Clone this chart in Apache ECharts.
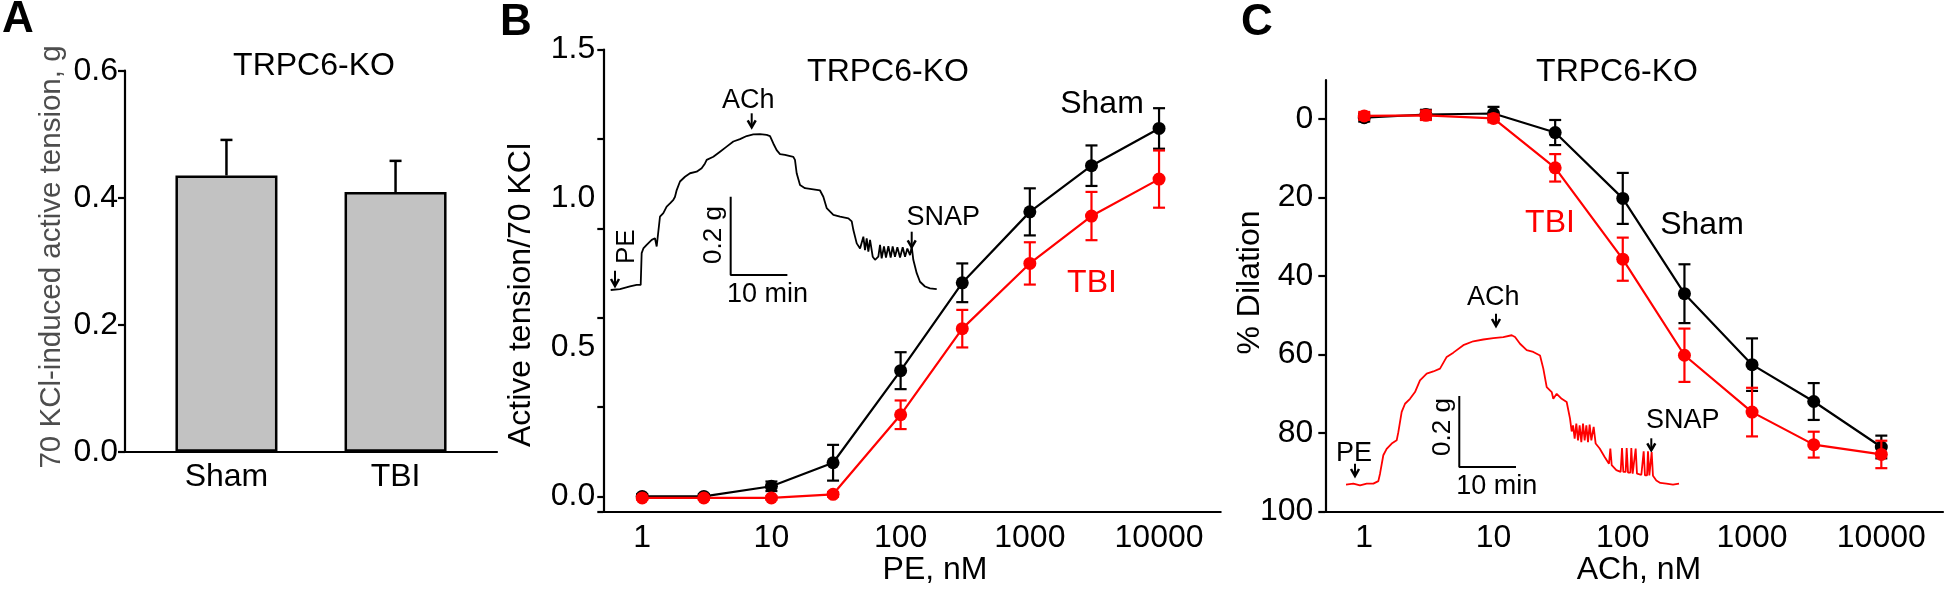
<!DOCTYPE html>
<html><head><meta charset="utf-8">
<script src="https://cdn.jsdelivr.net/npm/echarts@6/dist/echarts.min.js"></script>
<style>html,body{margin:0;padding:0;background:#fff}#c{width:1946px;height:592px}</style>
</head><body><div id="c"></div>
<script>
// ---------- DATA ----------
const barCategories = ['Sham', 'TBI'];
const barMeans = [0.435, 0.409];
const barErrs = [0.056, 0.049];
const aYTicks = [0, 0.2, 0.4, 0.6];

const conc = [1, 3, 10, 30, 100, 300, 1000, 3000, 10000];
const logTicks = [1, 10, 100, 1000, 10000];
const logTickLabels = ['1', '10', '100', '1000', '10000'];

const peShamMean = [0.0, 0.0, 0.034, 0.113, 0.422, 0.717, 0.955, 1.110, 1.235];
const peShamErr  = [0.008, 0.008, 0.016, 0.060, 0.062, 0.065, 0.079, 0.068, 0.068];
const peTbiMean  = [-0.005, -0.005, -0.005, 0.007, 0.274, 0.563, 0.782, 0.941, 1.065];
const peTbiErr   = [0.006, 0.006, 0.006, 0.008, 0.048, 0.063, 0.071, 0.081, 0.096];
const bYTicks = [0, 0.5, 1.0, 1.5];

const achShamMean = [-0.4, -1.2, -1.45, 3.4, 20.2, 44.5, 62.6, 72.0, 83.6];
const achShamErr  = [1.0, 1.2, 1.7, 3.2, 6.5, 7.5, 6.7, 4.7, 2.9];
const achTbiMean  = [-0.85, -1.0, -0.2, 12.4, 35.7, 60.2, 74.7, 83.0, 85.5];
const achTbiErr   = [1.0, 1.2, 1.0, 3.5, 5.5, 6.8, 6.2, 3.3, 3.5];
const cYTicks = [0, 20, 40, 60, 80, 100];

// raw tension traces (minutes, grams above baseline)
const traceBTime = [0.0,1.64,3.40,4.58,5.29,5.46,5.76,6.34,7.23,7.81,8.11,8.69,9.28,9.87,10.46,11.05,11.34,11.64,12.22,13.10,13.99,15.16,16.04,16.63,16.93,18.10,19.28,20.45,21.63,22.80,23.98,25.15,26.33,27.51,28.10,28.68,29.27,29.86,30.74,32.21,32.50,32.80,33.39,34.27,35.74,36.92,37.50,38.09,39.27,40.45,41.92,42.51,42.80,43.39,43.98,44.27,44.56,44.85,45.15,45.44,45.74,46.21,46.62,47.20,47.50,47.79,48.20,48.55,48.97,49.38,49.73,50.14,50.56,51.03,51.50,51.91,52.32,52.79,53.09,53.37,53.97,54.55,55.43,56.31,57.50];
const traceBTension = [0,0.002,0.009,0.013,0.013,0.094,0.106,0.115,0.128,0.132,0.111,0.187,0.196,0.213,0.221,0.230,0.238,0.255,0.277,0.289,0.298,0.302,0.311,0.323,0.332,0.340,0.353,0.366,0.379,0.385,0.393,0.397,0.398,0.396,0.393,0.374,0.357,0.347,0.345,0.340,0.332,0.298,0.268,0.260,0.257,0.254,0.238,0.209,0.192,0.187,0.183,0.175,0.153,0.119,0.106,0.111,0.136,0.102,0.132,0.098,0.128,0.085,0.077,0.085,0.115,0.081,0.111,0.083,0.112,0.083,0.111,0.085,0.109,0.083,0.109,0.085,0.106,0.089,0.111,0.077,0.043,0.021,0.009,0.004,0.002];

const traceCTime = [0,1.29,2.47,3.65,4.82,5.70,6.0,6.58,7.17,8.06,8.94,9.23,9.82,10.41,11.29,12.17,13.05,14.23,15.40,16.58,17.76,18.93,20.69,22.45,24.22,25.98,27.74,29.22,29.81,30.69,31.87,33.03,34.22,34.80,35.40,36.28,36.56,37.16,38.04,38.92,39.51,39.80,40.04,40.33,40.62,40.92,41.21,41.50,41.80,42.09,42.39,42.68,42.97,43.27,43.68,44.03,44.74,45.62,46.38,46.62,46.86,47.68,48.44,48.68,48.91,49.32,49.50,49.74,50.15,50.32,50.56,50.91,51.09,51.32,52.09,52.50,52.73,53.09,53.26,53.50,53.73,53.91,54.14,54.73,55.44,56.50,57.67,58.73];
const traceCTension = [0,0.003,-0.002,0.003,0.003,0.010,0.031,0.083,0.101,0.116,0.125,0.148,0.205,0.228,0.242,0.261,0.294,0.313,0.319,0.327,0.360,0.372,0.393,0.404,0.409,0.413,0.416,0.421,0.416,0.397,0.379,0.374,0.364,0.327,0.275,0.261,0.242,0.256,0.242,0.233,0.186,0.150,0.167,0.130,0.172,0.125,0.167,0.120,0.172,0.125,0.167,0.120,0.169,0.125,0.163,0.116,0.102,0.078,0.059,0.102,0.055,0.041,0.036,0.103,0.036,0.036,0.103,0.034,0.034,0.103,0.031,0.031,0.102,0.031,0.028,0.094,0.026,0.026,0.094,0.026,0.028,0.092,0.025,0.012,0.005,0.003,0.0,0.003];

const scaleBarGrams = 0.2;
const scaleBarMinutes = 10;

// ---------- BUILD ----------
const FONT = '"Liberation Sans", Arial, Helvetica, sans-serif';
const zip = (a, b) => a.map((v, i) => [v, b[i]]);
const errRows = (xs, m, e) => xs.map((x, i) => [x, m[i] - e[i], m[i] + e[i]]);
const scaleBar = (t0, g0) => [[t0, g0 + scaleBarGrams], [t0, g0], [t0 + scaleBarMinutes, g0]];

function errRender(params, api) {
  const x = api.value(0);
  const lo = api.coord([x, api.value(1)]);
  const hi = api.coord([x, api.value(2)]);
  const hw = 6;
  const style = { stroke: api.visual('color'), lineWidth: 2.2 };
  return { type: 'group', children: [
    { type: 'line', shape: { x1: lo[0], y1: lo[1], x2: hi[0], y2: hi[1] }, style },
    { type: 'line', shape: { x1: lo[0] - hw, y1: lo[1], x2: lo[0] + hw, y2: lo[1] }, style },
    { type: 'line', shape: { x1: hi[0] - hw, y1: hi[1], x2: hi[0] + hw, y2: hi[1] }, style }
  ]};
}
function errUpRender(params, api) {
  const x = api.value(0);
  const lo = api.coord([x, api.value(1)]);
  const hi = api.coord([x, api.value(2)]);
  const hw = 6;
  const style = { stroke: '#000', lineWidth: 2.5 };
  return { type: 'group', children: [
    { type: 'line', shape: { x1: lo[0], y1: lo[1], x2: hi[0], y2: hi[1] }, style },
    { type: 'line', shape: { x1: hi[0] - hw, y1: hi[1], x2: hi[0] + hw, y2: hi[1] }, style }
  ]};
}
const logFmt = v => {
  for (let i = 0; i < logTicks.length; i++) {
    if (Math.abs(v - logTicks[i]) / logTicks[i] < 1e-6) return logTickLabels[i];
  }
  return '';
};

const axLine = { show: true, onZero: false, lineStyle: { color: '#000', width: 2.2 } };
const lbl = (margin, extra) => Object.assign({ color: '#000', fontSize: 32, fontFamily: FONT, margin }, extra || {});
const tickOut = len => ({ show: true, length: len, inside: false, lineStyle: { color: '#000', width: 2.2 } });

const hiddenAx = (gi, min, max) => ({ gridIndex: gi, type: 'value', min, max, show: false });

function txt(text, x, y, size, opts) {
  opts = opts || {};
  return {
    type: 'text', x, y, z: 100, rotation: opts.rot || 0,
    style: { text, fontSize: size, fontFamily: FONT, fontWeight: opts.bold ? 'bold' : 'normal',
      fill: opts.color || '#000', align: 'center', verticalAlign: 'middle' }
  };
}
function arrow(x, y1, y2) {
  return { type: 'group', z: 100, children: [
    { type: 'line', shape: { x1: x, y1: y1, x2: x, y2: y2 - 1 }, style: { stroke: '#000', lineWidth: 2 } },
    { type: 'polyline', shape: { points: [[x - 4, y2 - 7], [x, y2], [x + 4, y2 - 7]] }, style: { stroke: '#000', lineWidth: 2.5, fill: null } }
  ]};
}

const option = {
  animation: false,
  backgroundColor: '#fff',
  textStyle: { fontFamily: FONT },
  grid: [
    { left: 125, top: 70.7, right: 1449, bottom: 140.3, outerBoundsMode: 'none' },
    { left: 603.3, top: 49.5, right: 725.3, bottom: 80.7, outerBoundsMode: 'none' },
    { left: 1325.3, top: 80, right: 3, bottom: 80.7, outerBoundsMode: 'none' },
    { left: 610.7, top: 113.7, width: 340.2, height: 176.3, outerBoundsMode: 'none' },
    { left: 1346, top: 324.95, width: 340.2, height: 159.75, outerBoundsMode: 'none' }
  ],
  xAxis: [
    { gridIndex: 0, type: 'value', min: 0.4, max: 2.6, axisLine: axLine, axisTick: { show: false },
      splitLine: { show: false },
      axisLabel: lbl(9, { customValues: [1, 2], formatter: v => Number.isInteger(v) ? (barCategories[v - 1] || '') : '' }) },
    { gridIndex: 1, type: 'log', logBase: 10, min: 0.5, max: 30000, axisLine: axLine, axisTick: { show: false },
      splitLine: { show: false }, axisLabel: lbl(11, { formatter: logFmt, showMinLabel: true, showMaxLabel: true }) },
    { gridIndex: 2, type: 'log', logBase: 10, min: 0.5, max: 30000, axisLine: axLine, axisTick: { show: false },
      splitLine: { show: false }, axisLabel: lbl(11, { formatter: logFmt, showMinLabel: true, showMaxLabel: true }) },
    hiddenAx(3, 0, 60),
    hiddenAx(4, 0, 60)
  ],
  yAxis: [
    { gridIndex: 0, type: 'value', min: 0, max: 0.6, interval: 0.2, axisLine: axLine, axisTick: tickOut(7),
      splitLine: { show: false }, axisLabel: lbl(7, { formatter: v => v.toFixed(1) }) },
    { gridIndex: 1, type: 'value', min: -0.05, max: 1.5, axisLine: axLine, axisTick: tickOut(6, ), splitLine: { show: false },
      axisLabel: lbl(8, { customValues: bYTicks, formatter: v => v.toFixed(1) }) },
    { gridIndex: 2, type: 'value', min: -10, max: 100, inverse: true, axisLine: axLine, splitLine: { show: false },
      axisTick: Object.assign(tickOut(7), { customValues: cYTicks }),
      axisLabel: lbl(12, { customValues: cYTicks, formatter: v => String(v) }) },
    hiddenAx(3, 0, 0.45),
    hiddenAx(4, 0, 0.45)
  ],
  series: [
    // Panel A
    { type: 'bar', xAxisIndex: 0, yAxisIndex: 0, barWidth: 102,
      data: barMeans.map((m, i) => [i + 1, m]),
      itemStyle: { color: '#c2c2c2', borderColor: '#000', borderWidth: 2.5 }, z: 2 },
    { type: 'custom', xAxisIndex: 0, yAxisIndex: 0, renderItem: errUpRender, z: 3,
      encode: { x: 0, y: [1, 2] },
      data: barMeans.map((m, i) => [i + 1, m, m + barErrs[i]]) },
    // Panel B
    { type: 'line', xAxisIndex: 1, yAxisIndex: 1, data: zip(conc, peShamMean), symbol: 'circle', symbolSize: 13,
      color: '#000', lineStyle: { width: 2.2, color: '#000' }, itemStyle: { color: '#000' }, z: 3 },
    { type: 'custom', xAxisIndex: 1, yAxisIndex: 1, renderItem: errRender, itemStyle: { color: '#000' }, z: 3,
      encode: { x: 0, y: [1, 2] }, data: errRows(conc, peShamMean, peShamErr) },
    { type: 'line', xAxisIndex: 1, yAxisIndex: 1, data: zip(conc, peTbiMean), symbol: 'circle', symbolSize: 13,
      color: '#ff0000', lineStyle: { width: 2.2, color: '#ff0000' }, itemStyle: { color: '#ff0000' }, z: 4 },
    { type: 'custom', xAxisIndex: 1, yAxisIndex: 1, renderItem: errRender, itemStyle: { color: '#ff0000' }, z: 4,
      encode: { x: 0, y: [1, 2] }, data: errRows(conc, peTbiMean, peTbiErr) },
    // Panel C
    { type: 'line', xAxisIndex: 2, yAxisIndex: 2, data: zip(conc, achShamMean), symbol: 'circle', symbolSize: 13,
      color: '#000', lineStyle: { width: 2.2, color: '#000' }, itemStyle: { color: '#000' }, z: 3 },
    { type: 'custom', xAxisIndex: 2, yAxisIndex: 2, renderItem: errRender, itemStyle: { color: '#000' }, z: 3,
      encode: { x: 0, y: [1, 2] }, data: errRows(conc, achShamMean, achShamErr) },
    { type: 'line', xAxisIndex: 2, yAxisIndex: 2, data: zip(conc, achTbiMean), symbol: 'circle', symbolSize: 13,
      color: '#ff0000', lineStyle: { width: 2.2, color: '#ff0000' }, itemStyle: { color: '#ff0000' }, z: 4 },
    { type: 'custom', xAxisIndex: 2, yAxisIndex: 2, renderItem: errRender, itemStyle: { color: '#ff0000' }, z: 4,
      encode: { x: 0, y: [1, 2] }, data: errRows(conc, achTbiMean, achTbiErr) },
    // Insets
    { type: 'line', xAxisIndex: 3, yAxisIndex: 3, data: zip(traceBTime, traceBTension), showSymbol: false, symbol: 'none',
      clip: false, lineStyle: { width: 1.8, color: '#000' } },
    { type: 'line', xAxisIndex: 3, yAxisIndex: 3, data: scaleBar(21.16, 0.0383), showSymbol: false, symbol: 'none',
      clip: false, lineStyle: { width: 2, color: '#000' } },
    { type: 'line', xAxisIndex: 4, yAxisIndex: 4, data: zip(traceCTime, traceCTension), showSymbol: false, symbol: 'none',
      clip: false, lineStyle: { width: 1.8, color: '#ff0000' } },
    { type: 'line', xAxisIndex: 4, yAxisIndex: 4, data: scaleBar(19.98, 0.0499), showSymbol: false, symbol: 'none',
      clip: false, lineStyle: { width: 2, color: '#000' } }
  ],
  graphic: [
    // panel letters
    txt('A', 18, 20, 44, { bold: true }),
    txt('B', 516, 22.5, 44, { bold: true }),
    txt('C', 1257, 23.3, 44, { bold: true }),
    // titles
    txt('TRPC6-KO', 314, 66, 32),
    txt('TRPC6-KO', 888, 71.7, 32),
    txt('TRPC6-KO', 1617, 71.7, 32),
    // series labels
    txt('Sham', 1102, 104.5, 32),
    txt('TBI', 1092, 283.3, 32, { color: '#ff0000' }),
    txt('TBI', 1550, 223.3, 32, { color: '#ff0000' }),
    txt('Sham', 1702, 225, 32),
    // axis names
    txt('70 KCl-induced active tension, g', 51.7, 257, 29.5, { rot: Math.PI / 2, color: '#4d4d4d' }),
    txt('Active tension/70 KCl', 521, 295, 32, { rot: Math.PI / 2 }),
    txt('% Dilation', 1250, 282.5, 32, { rot: Math.PI / 2 }),
    txt('PE, nM', 935, 570, 32),
    txt('ACh, nM', 1639, 570, 32),
    // inset B annotations
    txt('ACh', 748.3, 100.8, 27),
    arrow(751.7, 113.3, 127.3),
    txt('PE', 626.7, 246.7, 26, { rot: Math.PI / 2 }),
    arrow(615, 270.7, 286),
    txt('0.2 g', 713.7, 235, 26, { rot: Math.PI / 2 }),
    txt('10 min', 767.5, 295, 27),
    txt('SNAP', 943.3, 217.5, 27),
    arrow(911.7, 231.7, 247.3),
    // inset C annotations
    txt('PE', 1354, 453.7, 27),
    arrow(1355, 463.7, 476),
    txt('ACh', 1493.3, 297.5, 27),
    arrow(1496, 313.7, 326),
    txt('0.2 g', 1442.5, 427, 26, { rot: Math.PI / 2 }),
    txt('10 min', 1496.7, 487, 27),
    txt('SNAP', 1682.7, 420.3, 27),
    arrow(1651.3, 438.3, 450.3)
  ]
};

const chart = echarts.init(document.getElementById('c'), null, { renderer: 'canvas' });
chart.setOption(option);
</script>
</body></html>
